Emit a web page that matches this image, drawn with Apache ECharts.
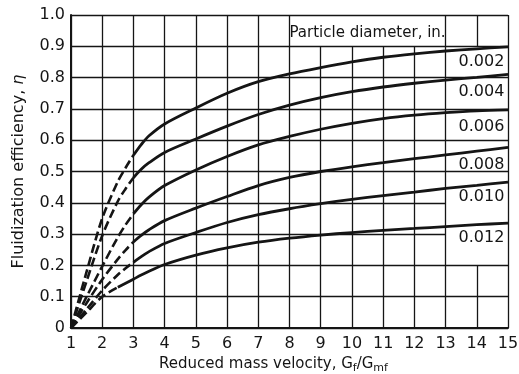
<!DOCTYPE html>
<html>
<head>
<meta charset="utf-8">
<style>html,body{margin:0;padding:0;background:#fff}#main{width:519px;height:374px}</style>
<script src="https://cdn.jsdelivr.net/npm/echarts@6/dist/echarts.min.js"></script>
</head>
<body>
<div id="main"></div>
<script>
// reduced mass velocity Gf/Gmf
var massVelocity = [1, 1.5, 2, 2.5, 2.75, 3, 3.25, 3.5, 4, 5, 6, 7, 8, 9, 10, 11, 12, 13, 14, 15];
// fluidization efficiency for each particle diameter
var eta002 = [0, 0.18, 0.35, 0.468, 0.512, 0.552, 0.586, 0.614, 0.652, 0.703, 0.75, 0.787, 0.812, 0.832, 0.85, 0.865, 0.876, 0.885, 0.892, 0.898];
var eta004 = [0, 0.15, 0.295, 0.405, 0.445, 0.48, 0.507, 0.528, 0.561, 0.604, 0.645, 0.682, 0.712, 0.736, 0.755, 0.77, 0.782, 0.792, 0.801, 0.81];
var eta006 = [0, 0.10, 0.197, 0.29, 0.33, 0.365, 0.394, 0.418, 0.455, 0.505, 0.548, 0.585, 0.612, 0.635, 0.654, 0.669, 0.68, 0.688, 0.694, 0.697];
var eta008 = [0, 0.08, 0.155, 0.22, 0.249, 0.275, 0.296, 0.314, 0.343, 0.383, 0.42, 0.455, 0.481, 0.50, 0.515, 0.528, 0.541, 0.553, 0.565, 0.577];
var eta010 = [0, 0.06, 0.12, 0.17, 0.191, 0.21, 0.228, 0.244, 0.27, 0.305, 0.337, 0.362, 0.381, 0.397, 0.411, 0.423, 0.434, 0.446, 0.456, 0.466];
var eta012 = [0, 0.05, 0.10, 0.13, 0.143, 0.156, 0.169, 0.181, 0.203, 0.233, 0.256, 0.274, 0.287, 0.297, 0.305, 0.312, 0.318, 0.324, 0.33, 0.335];
var diameters = ['0.002', '0.004', '0.006', '0.008', '0.010', '0.012'];
// x where the dashed (extrapolated) part of each curve stops
var dashEnd = [3, 3, 3, 3, 3, 2.5];

var curves = [eta002, eta004, eta006, eta008, eta010, eta012];
var font = 'DejaVu Sans';
var ink = '#151515';

var myChart = echarts.init(document.getElementById('main'));

// label places inside the grid (value coords)
var labelY = [0.849, 0.755, 0.643, 0.521, 0.42, 0.287];

// grid lines drawn as segments so the label boxes can break them
var vLines = [];
for (var gx = 1; gx <= 15; gx++) {
  if (gx >= 9 && gx <= 12) {
    vLines.push([{coord: [gx, 0]}, {coord: [gx, 0.9]}]);
  } else if (gx === 14) {
    vLines.push([{coord: [gx, 0]}, {coord: [gx, 0.2]}]);
    vLines.push([{coord: [gx, 0.9]}, {coord: [gx, 1]}]);
  } else {
    vLines.push([{coord: [gx, 0]}, {coord: [gx, 1]}]);
  }
}

var series = [];
curves.forEach(function (vals, i) {
  var dashed = [], solid = [];
  massVelocity.forEach(function (x, k) {
    if (x <= dashEnd[i]) dashed.push([x, vals[k]]);
    if (x >= dashEnd[i]) solid.push([x, vals[k]]);
  });
  series.push({
    name: diameters[i] + ' dashed',
    type: 'line',
    data: dashed,
    smooth: 0.3,
    symbol: 'none',
    lineStyle: {color: ink, width: 2.6, type: [9, 4]},
    silent: true
  });
  var s = {
    name: diameters[i],
    type: 'line',
    data: solid,
    smooth: 0.3,
    symbol: 'none',
    lineStyle: {color: ink, width: 2.8},
    silent: true,
    markPoint: {
      symbol: 'rect',
      symbolSize: 1,
      itemStyle: {color: 'rgba(0,0,0,0)'},
      silent: true,
      label: {show: true, position: 'inside', color: ink, fontSize: 16, fontFamily: font, formatter: diameters[i]},
      data: [{coord: [14.15, labelY[i]]}]
    }
  };
  if (i === 0) {
    s.markArea = {
      silent: true,
      itemStyle: {color: '#fff'},
      data: [[{coord: [13, 0.215]}, {coord: [15, 0.48]}]]
    };
    s.markLine = {
      silent: true,
      symbol: ['none', 'none'],
      label: {show: false},
      lineStyle: {color: ink, width: 1.3, type: 'solid'},
      data: vLines
    };
    s.markPoint.data.push({
      coord: [10.5, 0.942],
      label: {formatter: 'Particle diameter, in.', fontSize: 15}
    });
  }
  series.push(s);
});

var option = {
  animation: false,
  backgroundColor: '#fff',
  grid: {left: 71, right: 11, top: 15, bottom: 46, outerBoundsMode: 'none'},
  xAxis: {
    type: 'value',
    min: 1,
    max: 15,
    interval: 1,
    name: 'Reduced mass velocity, G{sub|f}/G{sub|mf}',
    nameLocation: 'middle',
    nameGap: 27,
    nameTextStyle: {
      color: ink, fontSize: 15, fontFamily: font,
      padding: [0, 32, 0, 0],
      rich: {sub: {fontSize: 11, fontFamily: font, color: ink, padding: [7, 0, 0, 0]}}
    },
    axisLine: {lineStyle: {color: ink, width: 2}},
    axisTick: {show: false},
    axisLabel: {color: ink, fontSize: 16, fontFamily: font, margin: 8},
    splitLine: {show: false}
  },
  yAxis: {
    type: 'value',
    min: 0,
    max: 1,
    interval: 0.1,
    name: 'Fluidization efficiency, {it|η}',
    nameLocation: 'middle',
    nameGap: 44,
    nameTextStyle: {
      color: ink, fontSize: 16, fontFamily: font,
      rich: {it: {fontSize: 16, fontFamily: font, fontStyle: 'italic', color: ink}}
    },
    axisLine: {lineStyle: {color: ink, width: 2}},
    axisTick: {show: false},
    axisLabel: {
      color: ink, fontSize: 16, fontFamily: font, margin: 6,
      formatter: function (v) { return v === 0 ? '0' : v.toFixed(1); }
    },
    splitLine: {show: true, lineStyle: {color: ink, width: 1.3}}
  },
  series: series
};

myChart.setOption(option);
</script>
</body>
</html>
